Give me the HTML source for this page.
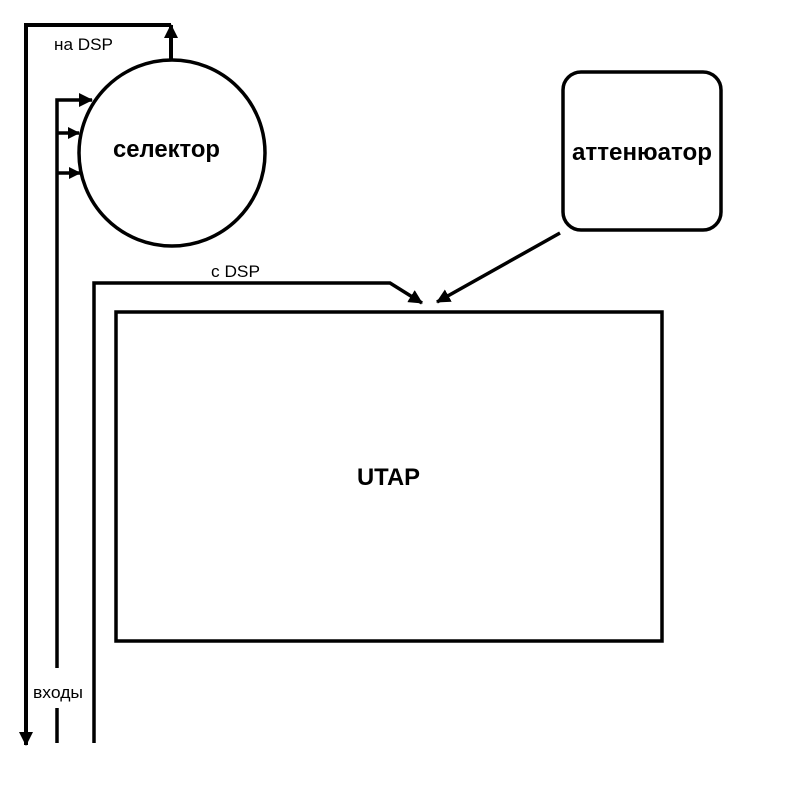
<!DOCTYPE html>
<html><head><meta charset="utf-8"><style>html,body{margin:0;padding:0;background:#fff}</style></head>
<body>
<svg width="800" height="800" viewBox="0 0 800 800" xmlns="http://www.w3.org/2000/svg" font-family="Liberation Sans, DejaVu Sans, sans-serif">
<defs>
<marker id="a" markerWidth="12" markerHeight="12" refX="11" refY="6" orient="auto" markerUnits="userSpaceOnUse"><path d="M0,0 L12,6 L0,12 z" fill="#000"/></marker>
<marker id="b" markerWidth="14" markerHeight="14" refX="13" refY="7" orient="auto" markerUnits="userSpaceOnUse"><path d="M0,0 L14,7 L0,14 z" fill="#000"/></marker>
</defs>
<g stroke="#000" stroke-width="4" fill="none">
<line x1="171" y1="60" x2="171" y2="25" marker-end="url(#b)"/>
<polyline points="171,25 26,25 26,745" marker-end="url(#b)"/>
<polyline points="57,668 57,100 92,100" marker-end="url(#b)" stroke-width="3.5"/>
<line x1="57" y1="708" x2="57" y2="743" stroke-width="3.5"/>
<line x1="58" y1="133" x2="79" y2="133" marker-end="url(#a)" stroke-width="3.5"/>
<line x1="58" y1="173" x2="80" y2="173" marker-end="url(#a)" stroke-width="3.5"/>
<polyline points="94,743 94,283 390,283 422,303" marker-end="url(#b)" stroke-width="3.5"/>
<line x1="560" y1="233" x2="437" y2="302" marker-end="url(#b)" stroke-width="3.5"/>
<circle cx="172" cy="153" r="93" stroke-width="3.5"/>
<rect x="563" y="72" width="158" height="158" rx="18" stroke-width="3.5"/>
<rect x="116" y="312" width="546" height="329" stroke-width="3.5"/>
</g>
<g fill="#000">
<text x="54" y="50" font-size="17" textLength="59" lengthAdjust="spacingAndGlyphs">на DSP</text>
<text x="211" y="277" font-size="17" textLength="49" lengthAdjust="spacingAndGlyphs">с DSP</text>
<text x="33" y="698" font-size="17" textLength="50" lengthAdjust="spacingAndGlyphs">входы</text>
<text x="113" y="157" font-size="24" font-weight="bold" textLength="107" lengthAdjust="spacingAndGlyphs">селектор</text>
<text x="572" y="160" font-size="24" font-weight="bold" textLength="140" lengthAdjust="spacingAndGlyphs">аттенюатор</text>
<text x="357" y="485" font-size="24" font-weight="bold" textLength="63" lengthAdjust="spacingAndGlyphs">UTAP</text>
</g>
</svg>
</body></html>
